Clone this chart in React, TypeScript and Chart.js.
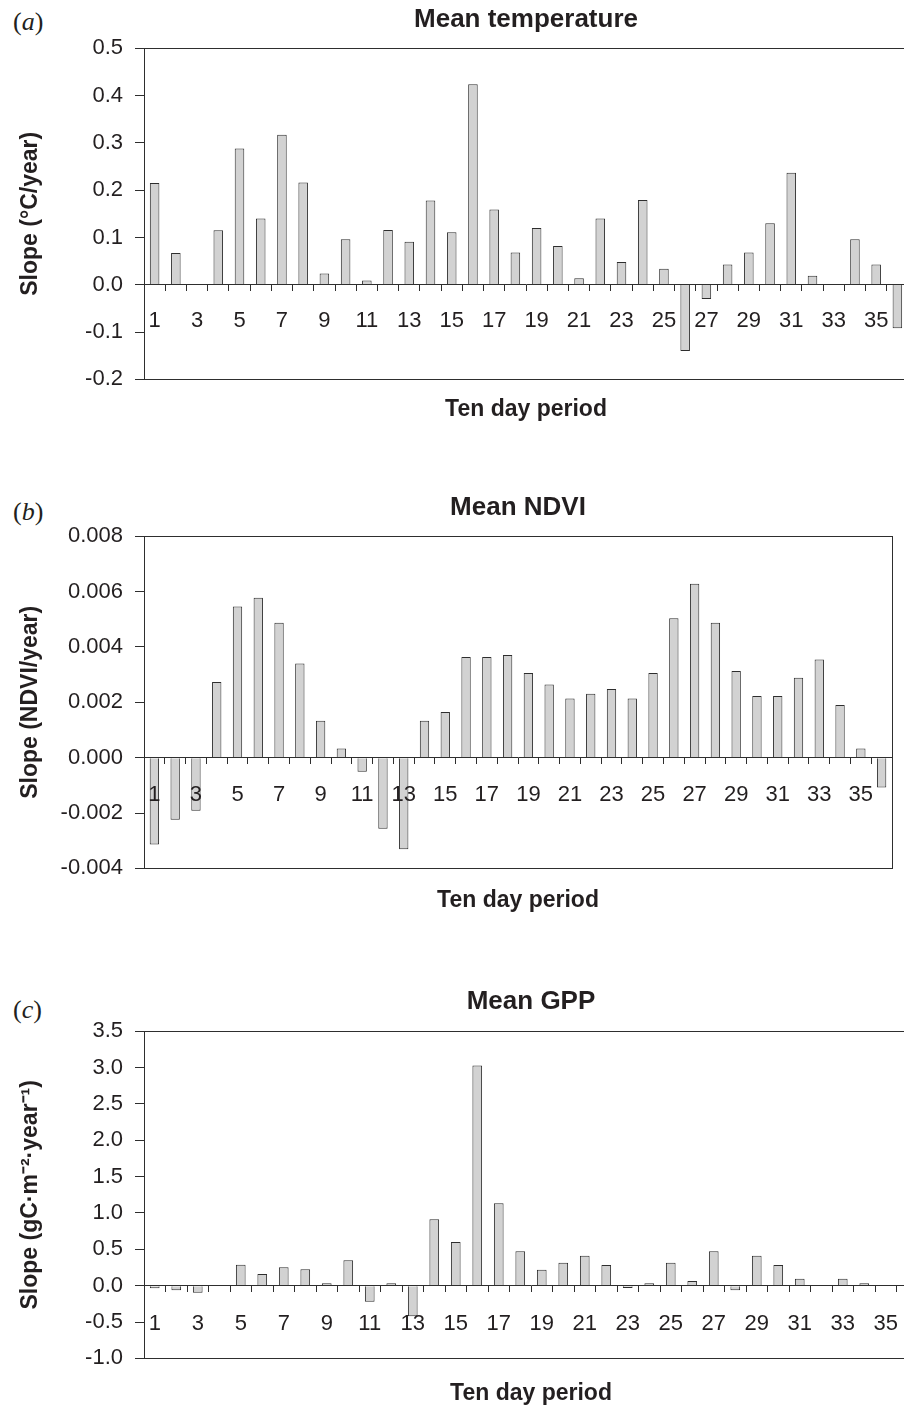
import React, { useEffect, useRef } from "react";
import { Chart, registerables } from "chart.js";

Chart.register(...registerables);

// ---------- data ----------
const periods = [
  "1", "2", "3", "4", "5", "6", "7", "8", "9", "10", "11", "12",
  "13", "14", "15", "16", "17", "18", "19", "20", "21", "22", "23", "24",
  "25", "26", "27", "28", "29", "30", "31", "32", "33", "34", "35", "36",
];

const temperatureSlope = [
  0.215, 0.067, 0.001, 0.115, 0.288, 0.14, 0.317, 0.216, 0.024, 0.096, 0.009, 0.116,
  0.091, 0.178, 0.111, 0.424, 0.159, 0.068, 0.12, 0.082, 0.014, 0.14, 0.048, 0.179,
  0.034, -0.14, -0.03, 0.043, 0.068, 0.13, 0.237, 0.019, 0.001, 0.096, 0.043, -0.092,
];

const ndviSlope = [
  -0.00314, -0.00224, -0.00192, 0.00273, 0.00546, 0.00578, 0.00487, 0.0034, 0.00133, 0.00033, -0.00051, -0.00257,
  -0.00331, 0.00133, 0.00165, 0.00364, 0.00364, 0.00371, 0.00306, 0.00264, 0.00214, 0.00231, 0.00248, 0.00214,
  0.00306, 0.00504, 0.00628, 0.00487, 0.00313, 0.00223, 0.00223, 0.00289, 0.00355, 0.0019, 0.00033, -0.00108,
];

const gppSlope = [
  -0.035, -0.064, -0.096, 0, 0.289, 0.16, 0.252, 0.225, 0.032, 0.349, -0.22, 0.032,
  -0.42, 0.913, 0.601, 3.028, 1.133, 0.472, 0.22, 0.317, 0.413, 0.284, -0.032, 0.032,
  0.317, 0.064, 0.472, -0.064, 0.413, 0.284, 0.096, 0, 0.096, 0.032, 0, 0,
];

const panelLetters = ["a", "b", "c"];
const panelTitles = ["Mean temperature", "Mean NDVI", "Mean GPP"];
const yAxisTitles = ["Slope (°C/year)", "Slope (NDVI/year)", "Slope (gC·m⁻²·year⁻¹)"];
const xAxisTitle = "Ten day period";
const yMins = [-0.2, -0.004, -1.0];
const yMaxs = [0.5, 0.008, 3.5];
const ySteps = [0.1, 0.002, 0.5];
const yDecimals = [1, 3, 1];

// ---------- layout ----------
const FONT = "'Liberation Sans', Arial, Helvetica, sans-serif";
const TEXT = "#231f20";
const LINE = "#2e2e2e";

type Layout = {
  top: number;
  width: number;
  height: number;
  padRight: number;
  padBottom: number;
  titleTop: number;
  titleBottom: number;
  subTop: number;
  xPad: number;
  letterTop: number;
};

const layouts: Layout[] = [
  { top: 0, width: 930, height: 440, padRight: 22, padBottom: 17, titleTop: 4, titleBottom: 13, subTop: 16, xPad: 16.5, letterTop: 7 },
  { top: 480, width: 904, height: 450, padRight: 12, padBottom: 16, titleTop: 12, titleBottom: 13, subTop: 18, xPad: 18, letterTop: 497 },
  { top: 960, width: 930, height: 447, padRight: 12, padBottom: 0, titleTop: 26, titleBottom: 14, subTop: 21, xPad: 19.5, letterTop: 995 },
];

const seriesList = [temperatureSlope, ndviSlope, gppSlope];

const boxPlugin = {
  id: "plotBox",
  afterDraw(chart: any) {
    const { ctx, chartArea } = chart;
    ctx.save();
    ctx.strokeStyle = LINE;
    ctx.lineWidth = 1;
    ctx.strokeRect(
      Math.round(chartArea.left) + 0.5,
      Math.round(chartArea.top) + 0.5,
      Math.round(chartArea.right - chartArea.left),
      Math.round(chartArea.bottom - chartArea.top)
    );
    ctx.restore();
  },
};

function Panel({ idx }: { idx: number }) {
  const ref = useRef<HTMLCanvasElement>(null);
  const L = layouts[idx];

  useEffect(() => {
    if (!ref.current) return;
    const chart = new Chart(ref.current, {
      type: "bar",
      data: {
        labels: periods,
        datasets: [
          {
            data: seriesList[idx],
            backgroundColor: "#d2d2d2",
            borderColor: LINE,
            borderWidth: 1,
            barPercentage: 0.45,
            categoryPercentage: 1,
          },
        ],
      },
      options: {
        responsive: false,
        animation: false,
        layout: { padding: { left: 0, right: L.padRight, top: 0, bottom: L.padBottom } },
        plugins: {
          legend: { display: false },
          tooltip: { enabled: false },
          title: {
            display: true,
            text: panelTitles[idx],
            fullSize: false,
            color: TEXT,
            font: { family: FONT, size: 26, weight: "bold", lineHeight: 1.2 },
            padding: { top: L.titleTop, bottom: L.titleBottom },
          },
          subtitle: {
            display: true,
            position: "bottom",
            text: xAxisTitle,
            fullSize: false,
            color: TEXT,
            font: { family: FONT, size: 23, weight: "bold", lineHeight: 1.2 },
            padding: { top: L.subTop, bottom: 0 },
          },
        },
        scales: {
          x: {
            position: { y: 0 } as any,
            grid: {
              drawOnChartArea: false,
              drawTicks: true,
              tickLength: 6,
              color: LINE,
              offset: true,
              z: 1,
            },
            border: { display: true, color: LINE, width: 1, z: 1 },
            ticks: {
              z: 1,
              autoSkip: false,
              maxRotation: 0,
              minRotation: 0,
              padding: L.xPad,
              color: TEXT,
              font: { family: FONT, size: 22 },
              callback: (_v: any, i: number) => (i % 2 === 0 ? periods[i] : ""),
            },
          },
          y: {
            min: yMins[idx],
            max: yMaxs[idx],
            afterFit: (s: any) => {
              s.width = 144;
            },
            grid: {
              drawOnChartArea: false,
              drawTicks: true,
              tickLength: 9,
              color: LINE,
            },
            border: { display: true, color: LINE, width: 1 },
            ticks: {
              stepSize: ySteps[idx],
              padding: 12,
              color: TEXT,
              font: { family: FONT, size: 22 },
              callback: (v: any) => {
                const n = Math.abs(Number(v)) < 1e-9 ? 0 : Number(v);
                return n.toFixed(yDecimals[idx]);
              },
            },
            title: {
              display: true,
              text: yAxisTitles[idx],
              color: TEXT,
              font: { family: FONT, size: 23, weight: "bold", lineHeight: 1.2 },
              padding: { top: 17, bottom: 0 },
            },
          },
        },
      },
      plugins: [boxPlugin],
    });
    return () => chart.destroy();
  }, []);

  return (
    <>
      <div
        style={{
          position: "absolute",
          left: 13,
          top: L.letterTop,
          font: "26px 'Liberation Serif', 'Times New Roman', serif",
          lineHeight: "30px",
          color: TEXT,
        }}
      >
        (<i>{panelLetters[idx]}</i>)
      </div>
      <canvas
        ref={ref}
        width={L.width}
        height={L.height}
        style={{ position: "absolute", left: 0, top: L.top, width: L.width, height: L.height }}
      />
    </>
  );
}

export default function App() {
  return (
    <div
      style={{
        position: "absolute",
        left: 0,
        top: 0,
        width: 904,
        height: 1407,
        overflow: "hidden",
        background: "#ffffff",
      }}
    >
      <Panel idx={0} />
      <Panel idx={1} />
      <Panel idx={2} />
    </div>
  );
}
